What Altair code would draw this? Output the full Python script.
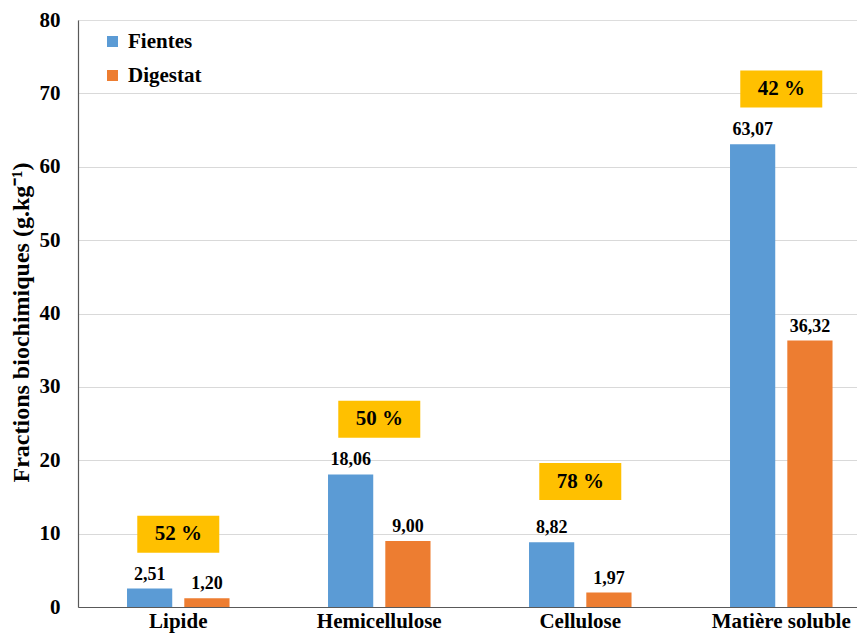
import altair as alt
import pandas as pd

categories = ["Lipide", "Hemicellulose", "Cellulose", "Matière soluble"]
series = ["Fientes", "Digestat"]
fientes = [2.51, 18.06, 8.82, 63.07]
digestat = [1.20, 9.00, 1.97, 36.32]
reduction_labels = ["52 %", "50 %", "78 %", "42 %"]
box_centers = [9.9, 25.6, 17.1, 70.6]
y_ticks = [0, 10, 20, 30, 40, 50, 60, 70, 80]

rows = []
for c, f, d in zip(categories, fientes, digestat):
    rows.append({"cat": c, "serie": "Fientes", "val": f, "lab": f"{f:.2f}".replace(".", ",")})
    rows.append({"cat": c, "serie": "Digestat", "val": d, "lab": f"{d:.2f}".replace(".", ",")})
df = pd.DataFrame(rows)
boxes = pd.DataFrame({"cat": categories, "pos": box_centers, "txt": reduction_labels})

FONT = "Liberation Serif"

x_scale = alt.Scale(domain=categories, paddingInner=0.49, paddingOuter=0.1828, align=0.667)
y_scale = alt.Scale(domain=[0, 80], nice=False)

x_enc = alt.X("cat:N", scale=x_scale, sort=categories,
              axis=alt.Axis(title=None, labelAngle=0, labelFont=FONT, labelFontSize=21,
                            labelFontWeight="bold", labelColor="black", ticks=False,
                            labelPadding=20, labelBaseline="alphabetic", domainColor="#595959",
                            domainWidth=1.2, labelOverlap=False, labelLimit=300))
y_enc = alt.Y("val:Q", scale=y_scale,
              axis=alt.Axis(title="Fractions biochimiques (g.kg⁻¹)", values=y_ticks,
                            titleFont=FONT, titleFontSize=24, titleFontWeight="bold",
                            titleColor="black", titleX=-50, titleY=302, titleAngle=270,
                            titleAlign="center", titleBaseline="alphabetic",
                            labelFont=FONT, labelFontSize=21, labelFontWeight="bold",
                            labelColor="black", ticks=False, labelPadding=18,
                            domainColor="#595959", domainWidth=1.2,
                            gridColor="#d9d9d9", gridWidth=1,
                            gridOpacity=alt.condition("datum.value == 80", alt.value(0), alt.value(1))))

color = alt.Color("serie:N", scale=alt.Scale(domain=series, range=["#5B9BD5", "#ED7D31"]),
                  legend=alt.Legend(title=None, orient="none", legendX=24, legendY=11,
                                    symbolType="square", symbolSize=121, symbolStrokeWidth=0,
                                    labelFont=FONT, labelFontSize=21, labelFontWeight="bold",
                                    labelColor="black", labelOffset=5, rowPadding=12,
                                    padding=0))
xoff = alt.XOffset("serie:N", sort=series, scale=alt.Scale(domain=series, paddingInner=0.2105))

bars = alt.Chart(df).mark_bar().encode(x=x_enc, xOffset=xoff, y=y_enc, color=color)
vals = alt.Chart(df).mark_text(font=FONT, fontSize=18, fontWeight="bold", color="black",
                               dy=-9, baseline="alphabetic").encode(
    x=alt.X("cat:N", scale=x_scale, sort=categories), xOffset=xoff,
    y=alt.Y("val:Q", scale=y_scale), text="lab:N")

rect = alt.Chart(boxes).mark_rect(width=82, height=37, color="#FFC000").encode(
    x=alt.X("cat:N", scale=x_scale, sort=categories), y=alt.Y("pos:Q", scale=y_scale))
pct = alt.Chart(boxes).mark_text(font=FONT, fontSize=21, fontWeight="bold", color="black",
                                 baseline="middle").encode(
    x=alt.X("cat:N", scale=x_scale, sort=categories), y=alt.Y("pos:Q", scale=y_scale),
    text="txt:N")

chart = alt.layer(bars, vals, rect, pct).properties(
    width=779, height=587,
    autosize=alt.AutoSizeParams(type="none"),
    padding={"left": 70, "top": 12, "right": 0, "bottom": 27},
).configure_view(stroke=None).configure(background="white")

chart.save("out.html", embed_options={"renderer": "svg", "actions": False})
